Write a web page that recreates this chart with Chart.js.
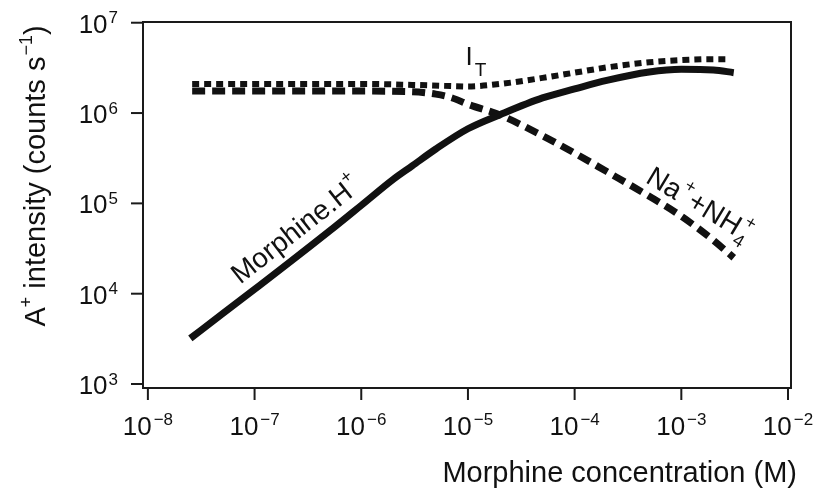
<!DOCTYPE html>
<html>
<head>
<meta charset="utf-8">
<script src="https://cdn.jsdelivr.net/npm/chart.js@4.4.1/dist/chart.umd.min.js"></script>
<style>
html,body{margin:0;padding:0;background:#fff;}
#wrap{width:823px;height:488px;position:relative;}
</style>
</head>
<body>
<div id="wrap"><canvas id="c" width="823" height="488"></canvas></div>
<script>
// ---- data ----
const concMorph = [2.5e-8, 5e-8, 1e-7, 2e-7, 5e-7, 1e-6, 2e-6, 3e-6, 5e-6, 1e-5, 2e-5, 5e-5, 1e-4, 2e-4, 5e-4, 1e-3, 2e-3, 3.1e-3];
const morphineH = [3.2e3, 6.0e3, 1.12e4, 2.1e4, 4.9e4, 9.5e4, 1.85e5, 2.6e5, 4.0e5, 6.7e5, 9.6e5, 1.47e6, 1.85e6, 2.3e6, 2.85e6, 3.05e6, 3.0e6, 2.8e6];

const concIT = [2.6e-8, 1e-7, 1e-6, 3e-6, 6e-6, 1e-5, 2e-5, 5e-5, 1e-4, 2e-4, 5e-4, 1e-3, 2e-3, 2.7e-3];
const iTotal = [2.1e6, 2.1e6, 2.1e6, 2.05e6, 2.0e6, 1.97e6, 2.1e6, 2.45e6, 2.8e6, 3.2e6, 3.65e6, 3.85e6, 3.95e6, 3.95e6];

const concNa = [2.6e-8, 1e-7, 1e-6, 3e-6, 5e-6, 7e-6, 1e-5, 2e-5, 5e-5, 1e-4, 2e-4, 5e-4, 1e-3, 2e-3, 3.1e-3];
const naNH4 = [1.75e6, 1.75e6, 1.75e6, 1.72e6, 1.62e6, 1.48e6, 1.25e6, 9.5e5, 5.6e5, 3.6e5, 2.25e5, 1.2e5, 7.2e4, 3.9e4, 2.5e4];

const xTickExps = [-8, -7, -6, -5, -4, -3, -2];
const yTickExps = [3, 4, 5, 6, 7];
const xTitle = 'Morphine concentration (M)';

const FONT = '"Liberation Sans", Arial, Helvetica, sans-serif';
const INK = '#111';

function pts(xs, ys){ return xs.map((x,i)=>({x:x, y:ys[i]})); }

function drawRich(ctx, parts, x, y, angle, align, middle){
  ctx.save();
  ctx.translate(x, y);
  ctx.rotate(angle || 0);
  ctx.textAlign = 'left';
  ctx.textBaseline = 'alphabetic';
  let total = 0;
  const ws = parts.map(p => {
    ctx.font = p.size + 'px ' + FONT;
    const w = ctx.measureText(p.t).width + (p.gap || 0);
    total += w;
    return w;
  });
  let cx = align === 'center' ? -total/2 : (align === 'right' ? -total : 0);
  const base = middle ? parts[0].size * 0.36 : 0;
  parts.forEach((p,i) => {
    ctx.font = p.size + 'px ' + FONT;
    ctx.fillStyle = INK;
    ctx.fillText(p.t, cx + (p.gap || 0), base + (p.dy || 0));
    cx += ws[i];
  });
  ctx.restore();
}

const frame = {
  id: 'frame',
  afterDraw(chart){
    const ctx = chart.ctx;
    const a = chart.chartArea;
    const xs = chart.scales.x, ys = chart.scales.y;
    ctx.save();
    ctx.strokeStyle = '#1a1a1a';
    ctx.lineWidth = 2;
    ctx.strokeRect(a.left, a.top, a.right - a.left, a.bottom - a.top);
    // y ticks
    yTickExps.forEach(e => {
      const py = ys.getPixelForValue(Math.pow(10, e));
      ctx.beginPath(); ctx.moveTo(a.left - 12, py); ctx.lineTo(a.left, py); ctx.stroke();
      drawRich(ctx, [{t:'10', size:26}, {t:String(e), size:17, dy:-9.5, gap:1}], a.left - 25, py + 10, 0, 'right');
    });
    // x ticks
    xTickExps.forEach(e => {
      const px = xs.getPixelForValue(Math.pow(10, e));
      ctx.beginPath(); ctx.moveTo(px, a.bottom); ctx.lineTo(px, a.bottom + 12); ctx.stroke();
      drawRich(ctx, [{t:'10', size:26}, {t:'\u2212' + Math.abs(e), size:17, dy:-10, gap:2}], px, a.bottom + 47, 0, 'center');
    });
    // axis titles
    drawRich(ctx, [{t:xTitle, size:29}], 797, 482, 0, 'right');
    drawRich(ctx, [
      {t:'A', size:29}, {t:'+', size:18, dy:-13}, {t:' intensity (counts s', size:29},
      {t:'\u22121', size:18, dy:-13, gap:1}, {t:')', size:29}
    ], 45, 176, -Math.PI/2, 'center');
    // curve labels
    drawRich(ctx, [{t:'I', size:26}, {t:'T', size:19, dy:11, gap:2}],
      xs.getPixelForValue(9.5e-6), ys.getPixelForValue(3.4e6), 0, 'left');
    drawRich(ctx, [{t:'Morphine.H', size:28}, {t:'+', size:18, dy:-14}],
      xs.getPixelForValue(2.4e-7), ys.getPixelForValue(5.2e4), -38*Math.PI/180, 'center', true);
    drawRich(ctx, [{t:'Na', size:28}, {t:'+', size:18, dy:-14, gap:1}, {t:'+NH', size:28, gap:1},
      {t:'4', size:18, dy:8, gap:1}, {t:'+', size:18, dy:-14, gap:-9}],
      xs.getPixelForValue(1.5e-3), ys.getPixelForValue(1.0e5), 31*Math.PI/180, 'center', true);
    ctx.restore();
  }
};

new Chart(document.getElementById('c'), {
  type: 'line',
  data: {
    datasets: [
      { label: 'Morphine.H+', data: pts(concMorph, morphineH), borderColor: INK, borderWidth: 7,
        pointRadius: 0, cubicInterpolationMode: 'monotone', fill: false },
      { label: 'I_T', data: pts(concIT, iTotal), borderColor: INK, borderWidth: 6,
        borderDash: [7, 5], pointRadius: 0, cubicInterpolationMode: 'monotone', fill: false },
      { label: 'Na+ + NH4+', data: pts(concNa, naNH4), borderColor: INK, borderWidth: 7,
        borderDash: [13, 7], pointRadius: 0, cubicInterpolationMode: 'monotone', fill: false }
    ]
  },
  options: {
    responsive: false,
    animation: false,
    events: [],
    layout: { padding: { left: 143, right: 32, top: 22, bottom: 100 } },
    plugins: { legend: { display: false }, tooltip: { enabled: false } },
    scales: {
      x: { type: 'logarithmic', display: false, min: Math.pow(10, -8.0375), max: Math.pow(10, -1.972) },
      y: { type: 'logarithmic', display: false, min: Math.pow(10, 2.956), max: Math.pow(10, 7.008) }
    }
  },
  plugins: [frame]
});
</script>
</body>
</html>
